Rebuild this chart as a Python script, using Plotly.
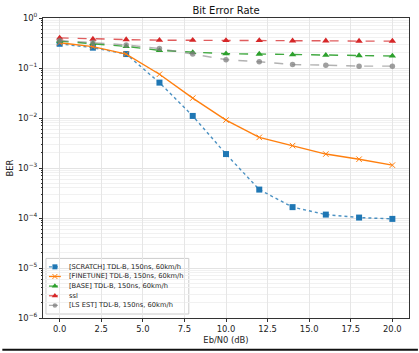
import plotly.graph_objects as go

snr = [0, 2, 4, 6, 8, 10, 12, 14, 16, 18, 20]
ber_scratch = [0.305, 0.255, 0.19, 0.051, 0.011, 0.0019, 0.00037, 0.000165, 0.000117, 0.000102, 0.000096]
ber_finetune = [0.32, 0.267, 0.19, 0.075, 0.025, 0.0091, 0.0041, 0.0028, 0.0019, 0.0015, 0.00114]
ber_base = [0.345, 0.31, 0.27, 0.225, 0.205, 0.193, 0.19, 0.185, 0.18, 0.177, 0.174]
ber_ssl = [0.40, 0.38, 0.37, 0.36, 0.36, 0.355, 0.355, 0.35, 0.35, 0.345, 0.345]
ber_ls = [0.355, 0.325, 0.29, 0.245, 0.19, 0.147, 0.133, 0.117, 0.114, 0.109, 0.109]

names = ["[SCRATCH] TDL-B, 150ns, 60km/h", "[FINETUNE] TDL-B, 150ns, 60km/h",
         "[BASE] TDL-B, 150ns, 60km/h", "ssl", "[LS EST] TDL-B, 150ns, 60km/h"]
series = [ber_scratch, ber_finetune, ber_base, ber_ssl, ber_ls]
line_colors = ["rgba(31,119,180,0.8)", "#ff7f0e", "rgba(44,160,44,0.9)", "rgba(214,39,40,0.75)", "rgba(127,127,127,0.6)"]
marker_colors = ["#1f77b4", "#ff7f0e", "#2ca02c", "#d62728", "rgba(127,127,127,0.75)"]
dashes = ["dot", "solid", "dash", "dash", "dash"]
symbols = ["square", "x-thin", "triangle-up", "triangle-up", "circle"]
msizes = [6, 5.5, 6.5, 6.5, 5.5]
leg_sizes = [5, 5, 5.5, 5.5, 4.5]

W, H = 419, 353
L, R, T, B = 41, 9, 18, 33
pw, ph = W - L - R, H - T - B

fig = go.Figure()
for nm, ys, lc, mc, ds, sy, ms in zip(names, series, line_colors, marker_colors, dashes, symbols, msizes):
    fig.add_trace(go.Scatter(
        x=snr, y=ys, name=nm, mode="lines+markers",
        line=dict(color=lc, width=1.4, dash=ds),
        marker=dict(symbol=sy, size=ms, color=mc, line=dict(color=mc, width=1 if sy == "x-thin" else 0)),
        showlegend=False))

# custom compact legend (overlay axes in pixel-like fraction units)
def px2x(px):
    return (px - L) / pw

def py2y(py):
    return (T + ph - py) / ph

row_y = [268.5, 278.2, 287.9, 297.6, 307.3]
for i, (nm, lc, mc, ds, sy, ms) in enumerate(zip(names, line_colors, marker_colors, dashes, symbols, leg_sizes)):
    yy = py2y(row_y[i])
    fig.add_trace(go.Scatter(
        x=[px2x(47), px2x(59)], y=[yy, yy], xaxis="x2", yaxis="y2", mode="lines",
        line=dict(color=lc, width=1.3, dash=ds), showlegend=False, hoverinfo="skip"))
    fig.add_trace(go.Scatter(
        x=[px2x(53)], y=[yy], xaxis="x2", yaxis="y2", mode="markers",
        marker=dict(symbol=sy, size=ms, color=mc, line=dict(color=mc, width=1 if sy == "x-thin" else 0)),
        showlegend=False, hoverinfo="skip"))
    fig.add_annotation(x=px2x(65), y=yy, xref="x2", yref="y2", text=nm, showarrow=False,
                       xanchor="left", yanchor="middle",
                       font=dict(family="DejaVu Sans", size=6.7, color="#222"))

fig.add_shape(type="rect", xref="paper", yref="paper",
              x0=px2x(44), x1=px2x(188), y0=py2y(316), y1=py2y(260),
              line=dict(color="#cccccc", width=1), fillcolor="rgba(255,255,255,0.85)", layer="between")

# bottom frame line of the picture
fig.add_shape(type="line", xref="paper", yref="paper", x0=-L / pw, x1=(W - L) / pw,
              y0=py2y(352), y1=py2y(352), line=dict(color="#111", width=2))

yt = [10 ** k for k in range(-6, 1)]
ytxt = ["10<sup>−%d</sup>" % (-k) if k < 0 else "10<sup>0</sup>" for k in range(-6, 1)]

fig.update_layout(
    width=W, height=H, margin=dict(l=L, r=R, t=T, b=B),
    paper_bgcolor="white", plot_bgcolor="white",
    font=dict(family="DejaVu Sans", size=8.4, color="#222"),
    title=dict(text="Bit Error Rate", x=0.5, xref="paper", xanchor="center", y=1 - 10 / H, yanchor="middle",
               font=dict(size=10, color="#111")),
    xaxis=dict(range=[-1, 21], tick0=0, dtick=2.5, tickformat=".1f",
               showgrid=True, gridcolor="#e6e6e6", gridwidth=1,
               showline=True, linecolor="#333", linewidth=1, mirror=True,
               ticks="outside", ticklen=3, tickcolor="#333", zeroline=False,
               title=dict(text="Eb/N0 (dB)", standoff=4, font=dict(size=8.4))),
    yaxis=dict(type="log", range=[-6, 0], tickvals=yt, ticktext=ytxt,
               showgrid=True, gridcolor="#e3e3e3", gridwidth=1,
               minor=dict(dtick="D1", showgrid=True, gridcolor="#f1f1f1", gridwidth=1,
                          ticks="outside", ticklen=1.5, tickcolor="#333"),
               showline=True, linecolor="#333", linewidth=1, mirror=True,
               ticks="outside", ticklen=3, tickcolor="#333", zeroline=False,
               title=dict(text="BER", standoff=3, font=dict(size=8.4))),
    xaxis2=dict(range=[0, 1], overlaying="x", visible=False, fixedrange=True),
    yaxis2=dict(range=[0, 1], overlaying="y", visible=False, fixedrange=True),
)

fig.write_html("out.html")
